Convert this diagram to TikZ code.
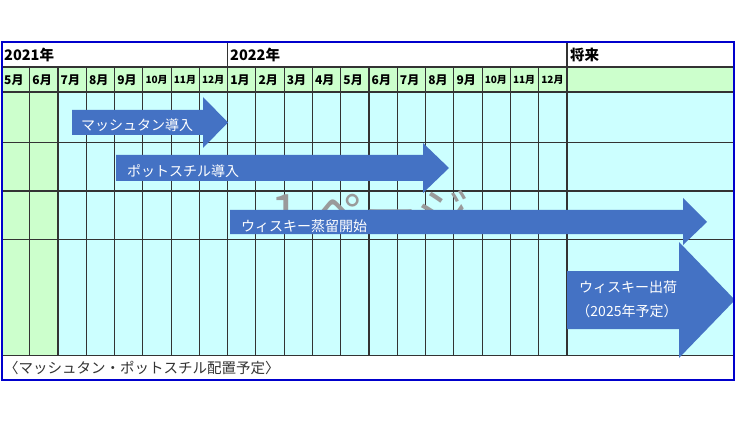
\documentclass[tikz,border=0pt]{standalone}
\usepackage{fontspec}
\setmainfont{Noto Sans CJK JP}
\definecolor{arrowblue}{HTML}{4472C4}
\definecolor{cellgreen}{HTML}{CCFFCC}
\definecolor{cellcyan}{HTML}{CCFFFF}
\definecolor{frameblue}{HTML}{0000CC}
\definecolor{markgray}{HTML}{9A9A9A}
\tikzset{
    gridline/.style={draw=black!80, line width=1.1pt},
    barlabel/.style={text=white, inner sep=0pt, anchor=west, font=\fontsize{14}{14}\selectfont},
    headlabel/.style={inner sep=0pt, anchor=west, font=\bfseries\fontsize{14.5}{14.5}\selectfont}
}
\begin{document}
\begin{tikzpicture}[x=1pt, y=-1pt]
                \useasboundingbox (0,0) rectangle (736,422);
                \fill[white] (1.5,42) rectangle (734,380);
                \fill[cellgreen] (1.5,67) rectangle (734,92);
                \fill[cellcyan] (1.5,92) rectangle (734,355.5);
                \fill[cellgreen] (1.5,92) rectangle (58,355.5);
                \foreach \i in {1,...,19}
                    \draw[gridline] (1.5+28.27*\i,67) -- (1.5+28.27*\i,355.5);
                \draw[gridline] (227.7,42) -- (227.7,67);
                \draw[gridline] (567,42) -- (567,355.5);
                \foreach \y in {67,92,142.5,191,239.5,355.5}
                    \draw[gridline] (1.5,\y) -- (734,\y);
                \node[headlabel] (y2021) at (4,54.5) {2021年};
                \node[headlabel] (y2022) at (230,54.5) {2022年};
                \node[headlabel] (future) at (570,54.5) {将来};
                \foreach \m [count=\i from 0] in {5,6,7,8,9,10,11,12,1,2,3,4,5,6,7,8,9,10,11,12}
                    \node[inner sep=0pt, anchor=west, font=\bfseries] (m\i) at (1.5+28.27*\i+2.5,80)
                        {\ifnum\m>9 \fontsize{10}{10}\selectfont\else\fontsize{12}{12}\selectfont\fi\m 月};
                \node[text=markgray, inner sep=0pt, font=\fontsize{53}{53}\selectfont] (wm) at (370,212) {1 ページ};
                \fill[arrowblue] (72,110) -- (203,110) -- (203,97) -- (228,122.5) -- (203,148) -- (203,135) -- (72,135) -- cycle;
                \fill[arrowblue] (116,155) -- (423,155) -- (423,143) -- (449,168) -- (423,193) -- (423,181) -- (116,181) -- cycle;
                \fill[arrowblue] (230,210) -- (683,210) -- (683,198) -- (707,222) -- (683,245) -- (683,234) -- (230,234) -- cycle;
                \fill[arrowblue] (567,271) -- (679,271) -- (679,242) -- (735,300) -- (679,358) -- (679,329) -- (567,329) -- cycle;
                \node[barlabel] (mash) at (81,125) {マッシュタン導入};
                \node[barlabel] (pot) at (127,171.5) {ポットスチル導入};
                \node[barlabel] (still) at (241,226) {ウィスキー蒸留開始};
                \node[barlabel, anchor=center] (ship) at (628,287) {ウィスキー出荷};
                \node[barlabel, anchor=center] (ship2) at (627,311) {（2025年予定）};
                \node[inner sep=0pt, anchor=west, text=black!80, font=\fontsize{14.5}{14.5}\selectfont] (note) at (4,367.5) {〈マッシュタン・ポットスチル配置予定〉};
                \draw[frameblue, line width=2pt] (1.5,42) rectangle (734,380);
            \end{tikzpicture}
\end{document}
